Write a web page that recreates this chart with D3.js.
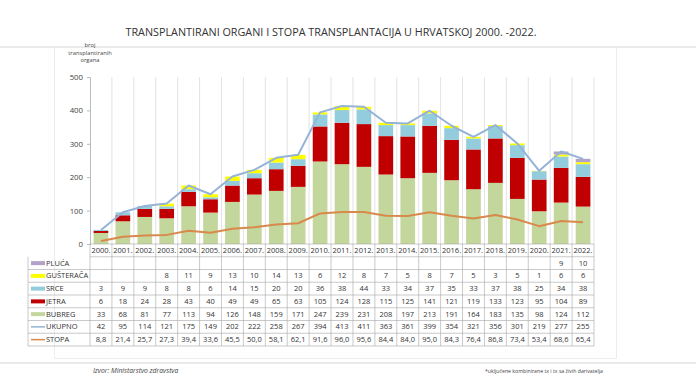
<!DOCTYPE html>
<html>
<head>
<meta charset="utf-8">
<script src="https://cdn.jsdelivr.net/npm/d3@7"></script>
<style>
	body { margin: 0; background: #fff; }
	svg { display: block; font-family: "Open Sans", "Noto Sans", sans-serif; }
</style>
</head>
<body>
<div id="chart"></div>
<script>
	/**
	 * Data
	 */
	const years = ["2000.", "2001.", "2002.", "2003.", "2004.", "2005.", "2006.", "2007.", "2008.", "2009.", "2010.", "2011.", "2012.", "2013.", "2014.", "2015.", "2016.", "2017.", "2018.", "2019.", "2020.", "2021.", "2022."];
	const pluca = [null, null, null, null, null, null, null, null, null, null, null, null, null, null, null, null, null, null, null, null, null, 9, 10];
	const gusteraca = [null, null, null, 8, 11, 9, 13, 10, 14, 13, 6, 12, 8, 7, 5, 8, 7, 5, 3, 5, 1, 6, 6];
	const srce = [3, 9, 9, 8, 8, 6, 14, 15, 20, 20, 36, 38, 44, 33, 34, 37, 35, 33, 37, 38, 25, 34, 38];
	const jetra = [6, 18, 24, 28, 43, 40, 49, 49, 65, 63, 105, 124, 128, 115, 125, 141, 121, 119, 133, 123, 95, 104, 89];
	const bubreg = [33, 68, 81, 77, 113, 94, 126, 148, 159, 171, 247, 239, 231, 208, 197, 213, 191, 164, 183, 135, 98, 124, 112];
	const ukupno = [42, 95, 114, 121, 175, 149, 202, 222, 258, 267, 394, 413, 411, 363, 361, 399, 354, 321, 356, 301, 219, 277, 255];
	const stopa = [8.8, 21.4, 25.7, 27.3, 39.4, 33.6, 45.5, 50.0, 58.1, 62.1, 91.6, 96.0, 95.6, 84.4, 84.0, 95.0, 84.3, 76.4, 86.8, 73.4, 53.4, 68.6, 65.4];
	const yTicks = [0, 100, 200, 300, 400, 500];

	const title = "TRANSPLANTIRANI ORGANI I STOPA TRANSPLANTACIJA U HRVATSKOJ 2000. -2022.";
	const source = "Izvor: Ministarstvo zdravstva";
	const note = "*uključene kombinirane tx i tx sa živih darivatelja";

	// stacked series, bottom to top
	const stackSeries = [
		{ key: "BUBREG", values: bubreg, color: "#c3d69b" },
		{ key: "JETRA", values: jetra, color: "#c00000" },
		{ key: "SRCE", values: srce, color: "#93cddd" },
		{ key: "GUŠTERAČA", values: gusteraca, color: "#ffff00" },
		{ key: "PLUĆA", values: pluca, color: "#b3a2c7" }
	];
	const lineSeries = [
		{ key: "UKUPNO", values: ukupno, color: "#95b3d7" },
		{ key: "STOPA", values: stopa, color: "#d8894b" }
	];

	// table rows, top to bottom
	const tableRows = [
		{ key: "PLUĆA", values: pluca, color: "#b3a2c7", type: "bar" },
		{ key: "GUŠTERAČA", values: gusteraca, color: "#ffff00", type: "bar" },
		{ key: "SRCE", values: srce, color: "#93cddd", type: "bar" },
		{ key: "JETRA", values: jetra, color: "#c00000", type: "bar" },
		{ key: "BUBREG", values: bubreg, color: "#c3d69b", type: "bar" },
		{ key: "UKUPNO", values: ukupno, color: "#95b3d7", type: "line" },
		{ key: "STOPA", values: stopa, color: "#d8894b", type: "line", decimal: true }
	];

	/**
	 * Layout
	 */
	let width = 696;
	let height = 375;
	let plotLeft = 90;
	let plotRight = 594;
	let plotTop = 77;
	let plotBottom = 244;
	let rowH = 12.75;
	let legendLeft = 28;

	let svg = d3.select("#chart").append("svg")
		.attr("width", width)
		.attr("height", height);

	/**
	 * Scales
	 */
	let xScale = d3.scaleBand().domain(years).range([plotLeft, plotRight]).paddingInner(0.33).paddingOuter(0.165);
	let colScale = d3.scaleBand().domain(years).range([plotLeft, plotRight]);
	let yScale = d3.scaleLinear().domain([0, 500]).range([plotBottom, plotTop]);

	// frame lines
	svg.append("line").attr("x1", 0).attr("x2", width).attr("y1", 47).attr("y2", 47)
		.attr("stroke", "#e3e3e3").attr("stroke-width", 1.5);
	svg.append("line").attr("x1", 0).attr("x2", width).attr("y1", 363).attr("y2", 363)
		.attr("stroke", "#e3e3e3").attr("stroke-width", 1.5);
	svg.append("path").attr("d", "M54.5,47V358.5H616.5V47")
		.attr("fill", "none").attr("stroke", "#ececec");

	// title
	svg.append("text")
		.attr("x", 331).attr("y", 36)
		.attr("text-anchor", "middle")
		.attr("font-size", 10.8)
		.attr("fill", "#333")
		.text(title);

	// y axis label
	svg.append("text")
		.attr("x", 90).attr("y", 47)
		.attr("text-anchor", "middle")
		.attr("font-size", 5.8)
		.attr("fill", "#444")
		.selectAll("tspan")
		.data(["broj", "transplantiranih", "organa"])
		.enter().append("tspan")
		.attr("x", 90)
		.attr("dy", function(d, i) { return i ? 7.7 : 0; })
		.text(function(d) { return d; });

	// vertical gridlines between categories
	svg.append("g")
		.selectAll("line")
		.data(years.slice(1).concat(["end"]))
		.enter().append("line")
		.attr("x1", function(d, i) { return plotLeft + colScale.bandwidth() * (i + 1); })
		.attr("x2", function(d, i) { return plotLeft + colScale.bandwidth() * (i + 1); })
		.attr("y1", plotTop)
		.attr("y2", plotBottom)
		.attr("stroke", "#dcdcdc")
		.attr("stroke-width", 0.8);

	// y axis
	let yAxis = svg.append("g")
		.attr("transform", "translate(" + plotLeft + ",0)")
		.call(d3.axisLeft(yScale).tickValues(yTicks).tickSize(3).tickPadding(4));
	yAxis.select(".domain").attr("stroke", "#bbb");
	yAxis.selectAll(".tick line").attr("stroke", "#bbb");
	yAxis.selectAll(".tick text")
		.attr("font-family", "Open Sans, sans-serif")
		.attr("font-size", 7.8)
		.attr("fill", "#444");

	/**
	 * Stacked bars
	 */
	let stacked = d3.stack()
		.keys(stackSeries.map(function(s) { return s.key; }))
		.value(function(d, key) { return d[key] || 0; })(
			years.map(function(y, i) {
				let row = { year: y };
				stackSeries.forEach(function(s) { row[s.key] = s.values[i]; });
				return row;
			})
		);

	let seriesGroup = svg.append("g").selectAll("g")
		.data(stacked)
		.enter().append("g")
		.attr("fill", function(d, i) { return stackSeries[i].color; });

	seriesGroup.selectAll("rect")
		.data(function(d) { return d; })
		.enter().append("rect")
		.attr("x", function(d) { return xScale(d.data.year); })
		.attr("width", xScale.bandwidth())
		.attr("y", function(d) { return yScale(d[1]); })
		.attr("height", function(d) { return yScale(d[0]) - yScale(d[1]); });

	/**
	 * Lines
	 */
	let lineGen = d3.line()
		.x(function(d, i) { return colScale(years[i]) + colScale.bandwidth() / 2; })
		.y(function(d) { return yScale(d); });

	svg.append("g").selectAll("path")
		.data(lineSeries)
		.enter().append("path")
		.attr("fill", "none")
		.attr("stroke", function(d) { return d.color; })
		.attr("stroke-width", 2)
		.attr("stroke-linejoin", "round")
		.attr("d", function(d) { return lineGen(d.values); });

	/**
	 * Data table
	 */
	let table = svg.append("g").attr("font-size", 7.5).attr("fill", "#333");
	let tableBottom = plotBottom + rowH * (tableRows.length + 1);
	let gridColor = "#a6a6a6";

	// header row
	table.selectAll(".yr")
		.data(years)
		.enter().append("text")
		.attr("class", "yr")
		.attr("x", function(d) { return colScale(d) + colScale.bandwidth() / 2; })
		.attr("y", plotBottom + rowH / 2 + 2.6)
		.attr("text-anchor", "middle")
		.text(function(d) { return d; });

	// horizontal rules
	let hLines = d3.range(tableRows.length + 2);
	table.selectAll(".hl")
		.data(hLines)
		.enter().append("line")
		.attr("x1", function(d) { return d < 2 ? plotLeft : legendLeft; })
		.attr("x2", plotRight)
		.attr("y1", function(d) { return plotBottom + d * rowH; })
		.attr("y2", function(d) { return plotBottom + d * rowH; })
		.attr("stroke", gridColor)
		.attr("stroke-width", 0.6);

	// vertical rules
	let vLines = [plotLeft].concat(years.map(function(y) { return colScale(y) + colScale.bandwidth(); }));
	table.selectAll(".vl")
		.data(vLines)
		.enter().append("line")
		.attr("x1", function(d) { return d; })
		.attr("x2", function(d) { return d; })
		.attr("y1", plotBottom)
		.attr("y2", tableBottom)
		.attr("stroke", gridColor)
		.attr("stroke-width", 0.6);
	table.append("line")
		.attr("x1", legendLeft).attr("x2", legendLeft)
		.attr("y1", plotBottom + rowH).attr("y2", tableBottom)
		.attr("stroke", gridColor).attr("stroke-width", 0.6);

	let rows = table.selectAll(".row")
		.data(tableRows)
		.enter().append("g")
		.attr("class", "row")
		.attr("transform", function(d, i) { return "translate(0," + (plotBottom + rowH * (i + 1)) + ")"; });

	// legend keys
	rows.append("rect")
		.attr("x", legendLeft + 3)
		.attr("width", 14)
		.attr("y", function(d) { return d.type === "bar" ? rowH / 2 - 2 : rowH / 2 - 0.75; })
		.attr("height", function(d) { return d.type === "bar" ? 4 : 1.5; })
		.attr("fill", function(d) { return d.color; });

	rows.append("text")
		.attr("x", legendLeft + 18)
		.attr("y", rowH / 2 + 2.6)
		.text(function(d) { return d.key; });

	rows.selectAll(".val")
		.data(function(d) {
			return d.values.map(function(v, i) { return { v: v, i: i, decimal: d.decimal }; });
		})
		.enter().append("text")
		.attr("class", "val")
		.attr("x", function(d) { return colScale(years[d.i]) + colScale.bandwidth() / 2; })
		.attr("y", rowH / 2 + 2.6)
		.attr("text-anchor", "middle")
		.text(function(d) {
			if (d.v === null) return "";
			return d.decimal ? d3.format(".1f")(d.v).replace(".", ",") : d.v;
		});

	// footer
	svg.append("text")
		.attr("x", 93).attr("y", 373)
		.attr("font-size", 6.8)
		.attr("font-style", "italic")
		.attr("fill", "#444")
		.text(source);
	svg.append("text")
		.attr("x", 603).attr("y", 373)
		.attr("text-anchor", "end")
		.attr("font-size", 5.2)
		.attr("fill", "#444")
		.text(note);
</script>
</body>
</html>
